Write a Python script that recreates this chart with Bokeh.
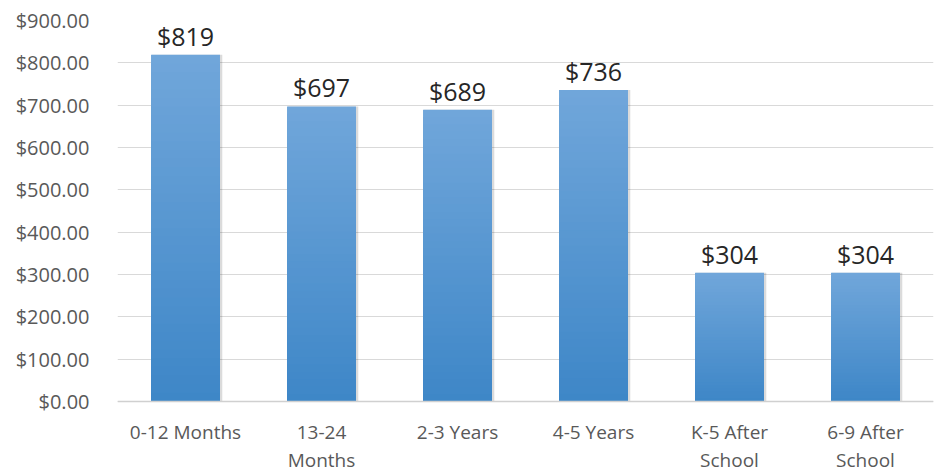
from bokeh.plotting import figure
from bokeh.models import ColumnDataSource, FactorRange, Range1d, NumeralTickFormatter, FixedTicker, Span
from bokeh.transform import dodge
from bokeh.core.properties import value
from bokeh.embed import file_html
from bokeh.resources import INLINE

categories = ["0-12 Months", "13-24 Months", "2-3 Years", "4-5 Years", "K-5 After School", "6-9 After School"]
cat_labels = ["0-12 Months", "13-24\nMonths", "2-3 Years", "4-5 Years", "K-5 After\nSchool", "6-9 After\nSchool"]
costs = [819, 697, 689, 736, 304, 304]
y_ticks = [0, 100, 200, 300, 400, 500, 600, 700, 800, 900]

FONT = "Open Sans"
BAR_W = 0.507
TOP_RGB = (0x70, 0xA6, 0xDA)
BOT_RGB = (0x3D, 0x86, 0xC7)
N = 40

# layout: frame top at 20px, value 0 at 401px, canvas bottom at 472px
W, H = 943, 472
TOP_PX, ZERO_PX = 20, 401
YMAX = 900
ymin = -(H - ZERO_PX) * YMAX / (ZERO_PX - TOP_PX)

p = figure(width=W, height=H, x_range=FactorRange(*categories), y_range=Range1d(ymin, YMAX),
           output_backend="svg", toolbar_location=None,
           min_border_left=117, min_border_right=10, min_border_top=TOP_PX, min_border_bottom=0)
p.outline_line_color = None
p.background_fill_color = "white"
p.border_fill_color = "white"
p.xaxis.visible = False

p.xgrid.grid_line_color = None
p.ygrid.grid_line_color = "#d9d9d9"
p.ygrid.grid_line_width = 1
p.ygrid.ticker = FixedTicker(ticks=y_ticks)
p.add_layout(Span(location=0, dimension="width", line_color="#d0d0d0", line_width=1.5))

# shadow
shadow = ColumnDataSource(dict(x=categories, top=costs))
p.vbar(x=dodge("x", 0.012, range=p.x_range), top="top", bottom=0, width=BAR_W + 0.01,
       source=shadow, fill_color="#000000", fill_alpha=0.14, line_color=None)

# gradient bars: overlapping bars, each one a little shorter and darker
xs, tops, colors = [], [], []
for k in range(N):
    t = 1 - k / N
    r = round(BOT_RGB[0] + (TOP_RGB[0] - BOT_RGB[0]) * t)
    g = round(BOT_RGB[1] + (TOP_RGB[1] - BOT_RGB[1]) * t)
    b = round(BOT_RGB[2] + (TOP_RGB[2] - BOT_RGB[2]) * t)
    for c, v in zip(categories, costs):
        xs.append(c)
        tops.append(v * (N - k) / N)
        colors.append("#%02x%02x%02x" % (r, g, b))
src = ColumnDataSource(dict(x=xs, top=tops, color=colors))
p.vbar(x="x", bottom=0, top="top", width=BAR_W, source=src,
       fill_color="color", line_color=None)

# data labels
lbl = ColumnDataSource(dict(x=categories, y=costs, text=["$%d" % v for v in costs]))
p.text(x="x", y="y", text="text", source=lbl, text_font=value(FONT), text_font_size="25px",
       text_color="#262626", text_align="center", text_baseline="bottom", y_offset=-2)

# multi-line category labels
cl = ColumnDataSource(dict(x=categories, y=[0] * len(categories), text=cat_labels))
p.text(x="x", y="y", text="text", source=cl, text_font=value(FONT), text_font_size="19px",
       text_color="#595959", text_align="center", text_baseline="top",
       text_line_height=1.08, y_offset=17)

# y axis
p.yaxis.ticker = FixedTicker(ticks=y_ticks)
p.yaxis.formatter = NumeralTickFormatter(format="$0,0.00")
p.yaxis.axis_line_color = None
p.yaxis.major_tick_line_color = None
p.yaxis.minor_tick_line_color = None
p.yaxis.major_label_text_font = FONT
p.yaxis.major_label_text_font_size = "20px"
p.yaxis.major_label_text_color = "#595959"
p.yaxis.major_label_standoff = 22

open("out.html", "w").write(file_html(p, INLINE))
